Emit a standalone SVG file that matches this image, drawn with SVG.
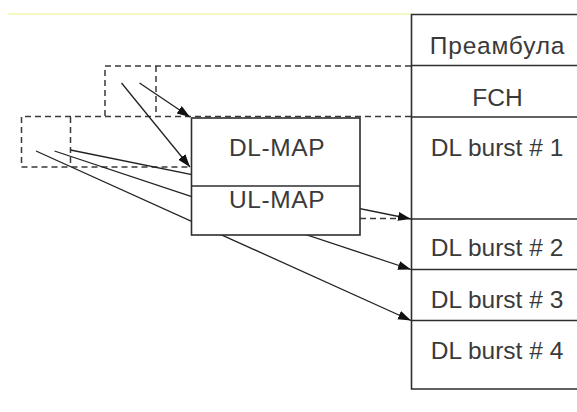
<svg xmlns="http://www.w3.org/2000/svg" width="577" height="412" viewBox="0 0 577 412">
  <style>
    .solid { stroke: #2e2e2e; stroke-width: 1.6; fill: none; }
    .dash { stroke: #3a3a3a; stroke-width: 1.5; fill: none; stroke-dasharray: 6 4; }
    .box { stroke: #2e2e2e; stroke-width: 1.6; fill: #ffffff; }
    .label { font-family: "Liberation Sans", Arial, sans-serif; font-size: 24.5px; fill: #3a3a3a; text-anchor: middle; }
    .arrow { stroke: #222222; stroke-width: 1.3; fill: none; marker-end: url(#head); }
  </style>
  <defs>
    <marker id="head" markerUnits="userSpaceOnUse" markerWidth="15" markerHeight="11" refX="13" refY="4.5" orient="auto">
      <path d="M0,0 L13,4.5 L0,9 Z" fill="#111111"/>
    </marker>
  </defs>

  <rect width="577" height="412" fill="#ffffff"/>

  <!-- pale rule across the top -->
  <line x1="8" y1="14" x2="411" y2="14" stroke="#eef28a" stroke-width="1.2"/>

  <!-- earlier frames, drawn as dashed outlines -->
  <g id="frame-upper">
    <polyline class="dash" points="411,66 105,66 105,117"/>
    <line class="dash" x1="156" y1="66" x2="156" y2="117"/>
  </g>
  <g id="frame-lower">
    <polyline class="dash" points="411,116.5 21.5,116.5 21.5,167 190,167"/>
    <line class="dash" x1="70.5" y1="117" x2="70.5" y2="167"/>
    <line class="dash" x1="360" y1="218.5" x2="404" y2="218.5"/>
  </g>

  <!-- connectors -->
  <g id="connectors">
    <line class="arrow" x1="121.5" y1="83" x2="190" y2="167"/>
    <line class="arrow" x1="139.5" y1="83" x2="190" y2="117"/>
    <line class="arrow" x1="70.5" y1="150" x2="411" y2="219"/>
    <line class="arrow" x1="54.5" y1="151" x2="411" y2="269.5"/>
    <line class="arrow" x1="36" y1="151" x2="411" y2="320.5"/>
  </g>

  <!-- DL-MAP / UL-MAP block -->
  <g id="map-block">
    <rect class="box" x="191.5" y="118" width="168.5" height="117"/>
    <line class="solid" x1="191.5" y1="186" x2="360" y2="186"/>
    <text class="label" x="277" y="156" letter-spacing="0.6">DL-MAP</text>
    <text class="label" x="277" y="208" letter-spacing="0.6">UL-MAP</text>
  </g>

  <!-- downlink subframe column -->
  <g id="subframe">
    <polyline class="solid" points="577,14.5 411.5,14.5 411.5,389 577,389"/>
  </g>
  <g id="preamble">
    <text class="label" x="497.5" y="54" letter-spacing="0.8">Преамбула</text>
    <line class="solid" x1="411.5" y1="65.5" x2="577" y2="65.5"/>
  </g>
  <g id="fch">
    <text class="label" x="497.5" y="106">FCH</text>
    <line class="solid" x1="411.5" y1="117" x2="577" y2="117"/>
  </g>
  <g id="dl-burst-1">
    <text class="label" x="497" y="156">DL burst # 1</text>
    <line class="solid" x1="411.5" y1="219" x2="577" y2="219"/>
  </g>
  <g id="dl-burst-2">
    <text class="label" x="497" y="256">DL burst # 2</text>
    <line class="solid" x1="411.5" y1="269.5" x2="577" y2="269.5"/>
  </g>
  <g id="dl-burst-3">
    <text class="label" x="497" y="307.5">DL burst # 3</text>
    <line class="solid" x1="411.5" y1="320.5" x2="577" y2="320.5"/>
  </g>
  <g id="dl-burst-4">
    <text class="label" x="497" y="359">DL burst # 4</text>
  </g>
</svg>
